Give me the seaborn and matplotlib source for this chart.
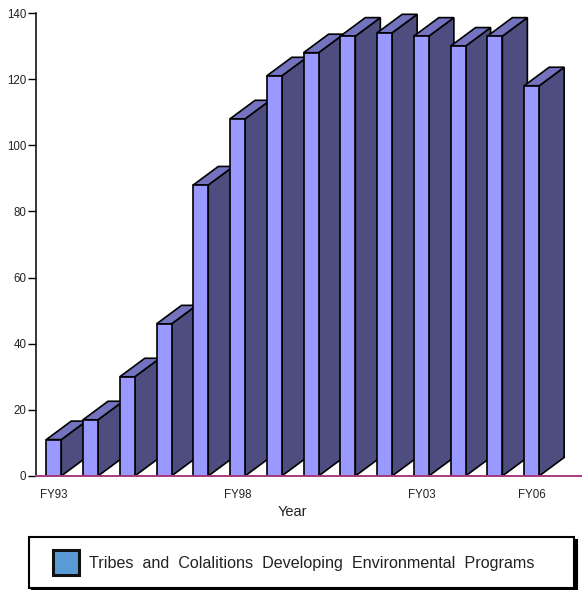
import matplotlib
matplotlib.use("Agg")
import matplotlib.pyplot as plt
from matplotlib.legend_handler import HandlerPatch
from matplotlib.patches import Patch, Polygon, Rectangle
import pandas as pd
import seaborn as sns

years = ["FY93", "FY94", "FY95", "FY96", "FY97", "FY98", "FY99", "FY00",
         "FY01", "FY02", "FY03", "FY04", "FY05", "FY06"]
programs = [11, 17, 30, 46, 88, 108, 121, 128, 133, 134, 133, 130, 133, 118]
shown_years = ["FY93", "FY98", "FY03", "FY06"]
y_ticks = [0, 20, 40, 60, 80, 100, 120, 140]
series_name = "Tribes and Colalitions Developing Environmental Programs"

FRONT, SIDE, TOP = "#9999FF", "#4D4D80", "#7373BF"
BASE, INK = "#A8397F", "#222222"
DEPTH_X, DEPTH_Y = 25 / 36.75, 5.6

sns.set_theme(style="white")
plt.rcParams["font.family"] = ["Liberation Sans", "DejaVu Sans"]

W, H = 582, 590
fig = plt.figure(figsize=(W / 100, H / 100), dpi=100, facecolor="white")
ax = fig.add_axes([36 / W, 1 - 476 / H, (W - 36) / W, (476 - 13) / H], facecolor="white")

df = pd.DataFrame({"Year": years, "Programs": programs})
sns.barplot(data=df, x="Year", y="Programs", color=FRONT, saturation=1, width=0.408,
            edgecolor="black", linewidth=1.2, ax=ax, zorder=3)

for i, bar in enumerate(ax.patches):
    x0, w, h = bar.get_x(), bar.get_width(), bar.get_height()
    x1 = x0 + w
    z = 3 + i * 3
    ax.add_patch(Polygon([(x1, 0), (x1 + DEPTH_X, DEPTH_Y), (x1 + DEPTH_X, h + DEPTH_Y), (x1, h)],
                         closed=True, facecolor=SIDE, edgecolor="black", linewidth=1.2,
                         joinstyle="miter", zorder=z))
    ax.add_patch(Polygon([(x0, h), (x0 + DEPTH_X, h + DEPTH_Y), (x1 + DEPTH_X, h + DEPTH_Y), (x1, h)],
                         closed=True, facecolor=TOP, edgecolor="black", linewidth=1.2,
                         joinstyle="miter", zorder=z + 1))
    bar.set_zorder(z + 2)

ax.set_xlim(-0.483, 14.37)
ax.set_ylim(0, 140)
ax.set_xticks([years.index(y) for y in shown_years], shown_years)
ax.set_yticks(y_ticks)
ax.tick_params(axis="y", length=6, width=1, color="black", pad=1, labelsize=8.3, labelcolor=INK, left=True)
ax.tick_params(axis="x", length=0, pad=9.5, labelsize=8.3, labelcolor=INK)
ax.set_ylabel("")
ax.set_xlabel("Year", fontsize=10.5, color=INK, labelpad=3, x=(292 - 36) / (W - 36))

for side in ("top", "right"):
    ax.spines[side].set_visible(False)
ax.spines["left"].set_color("black")
ax.spines["left"].set_linewidth(1.1)
ax.spines["bottom"].set_color(BASE)
ax.spines["bottom"].set_linewidth(1.4)
ax.spines["bottom"].set_zorder(100)


def swatch_artist(legend, orig_handle, xdescent, ydescent, width, height, fontsize):
    inset = 9.5 * 0.72  # extra left padding of the key inside the frame, in points
    grow = 2.0          # the key stands a little taller than the text row
    return Rectangle((-xdescent + inset, -ydescent - grow / 2), width - inset, height + grow)


swatch = Patch(facecolor="#5B9BD5", edgecolor="#111111", linewidth=2.2, label=series_name.replace(" ", "  "))
leg = fig.legend(handles=[swatch], loc="lower left",
                 bbox_to_anchor=(29 / W, 1 - 588 / H, (574 - 29) / W, (588 - 536) / H),
                 mode="expand", fontsize=11.6, labelcolor=INK, frameon=True, fancybox=False,
                 shadow={"facecolor": "black", "edgecolor": "black", "alpha": 1},
                 edgecolor="black", facecolor="white", framealpha=1, borderaxespad=0,
                 borderpad=0.9, handlelength=2.2, handleheight=1.7, handletextpad=0.6,
                 handler_map={Patch: HandlerPatch(patch_func=swatch_artist)})
leg.get_frame().set_linewidth(1.5)

fig.savefig("out.png", dpi=100)
